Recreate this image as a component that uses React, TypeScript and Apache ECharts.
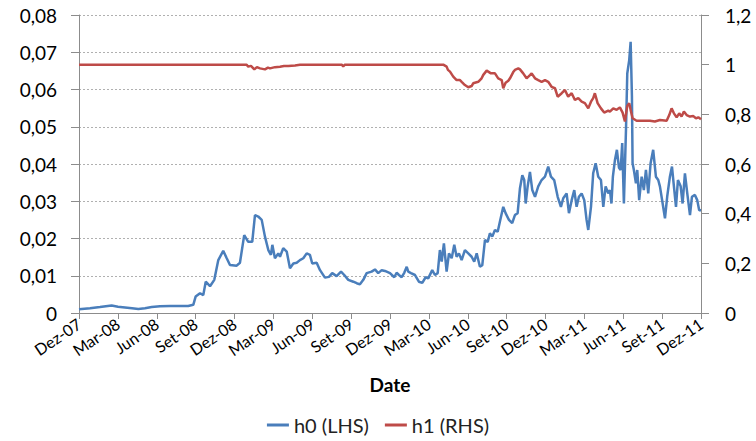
import React, { useEffect, useRef } from "react";
import * as echarts from "echarts";

// x positions are months since Dec 2007 (0 = Dez-07, 48 = Dez-11)
const tickLabels = [
  "Dez-07", "Mar-08", "Jun-08", "Set-08", "Dez-08", "Mar-09", "Jun-09", "Set-09", "Dez-09",
  "Mar-10", "Jun-10", "Set-10", "Dez-10", "Mar-11", "Jun-11", "Set-11", "Dez-11",
];

const h0Months = [
  0, 0.85, 1.62, 2.52, 3.01, 3.55, 4.09, 4.58, 5.09, 5.61, 6.25, 7.02, 7.79, 8.43, 8.82, 9.0, 9.34, 9.59, 9.78,
  10.11, 10.44, 10.75, 11.13, 11.4, 11.65, 12.17, 12.42, 12.75, 13.06, 13.37, 13.58, 13.83, 14.1, 14.35, 14.61,
  14.81, 14.92, 15.12, 15.38, 15.51, 15.76, 16.03, 16.28, 16.54, 16.8, 17.05, 17.31, 17.57, 17.82, 18.0, 18.34,
  18.6, 18.98, 19.29, 19.54, 19.88, 20.22, 20.47, 20.78, 21.17, 21.43, 21.68, 21.94, 22.2, 22.58, 22.84, 23.09,
  23.36, 23.61, 24.0, 24.33, 24.51, 24.69, 24.9, 25.1, 25.29, 25.41, 25.62, 25.93, 26.23, 26.49, 26.75, 26.95,
  27.26, 27.47, 27.68, 27.85, 27.99, 28.16, 28.37, 28.55, 28.76, 28.96, 29.14, 29.32, 29.53, 29.78, 30.04, 30.3,
  30.5, 30.69, 30.94, 31.12, 31.33, 31.54, 31.71, 31.89, 32.1, 32.31, 32.48, 32.74, 32.92, 33.18, 33.43, 33.64,
  33.85, 34.03, 34.21, 34.36, 34.47, 34.62, 34.8, 34.98, 35.19, 35.44, 35.7, 35.96, 36.21, 36.42, 36.67, 36.94,
  37.19, 37.37, 37.63, 37.81, 38.02, 38.22, 38.4, 38.58, 38.79, 38.99, 39.17, 39.3, 39.51, 39.68, 39.87, 40.07,
  40.28, 40.46, 40.64, 40.84, 40.97, 41.09, 41.2, 41.36, 41.51, 41.67, 41.8, 41.92, 42.05, 42.21, 42.31, 42.46,
  42.57, 42.67, 42.72, 42.82, 42.98, 43.08, 43.23, 43.42, 43.59, 43.75, 43.93, 44.11, 44.31, 44.52, 44.7, 44.83,
  45.04, 45.22, 45.39, 45.6, 45.76, 45.91, 46.07, 46.22, 46.43, 46.58, 46.76, 46.94, 47.15, 47.3, 47.53, 47.71,
  47.86, 48.0,
];

const h0Values = [
  0.001, 0.0013, 0.0016, 0.002, 0.0017, 0.0015, 0.0013, 0.0011, 0.0013, 0.0016, 0.0018, 0.0019, 0.0019, 0.0019,
  0.0022, 0.0044, 0.0053, 0.0048, 0.0084, 0.0072, 0.0089, 0.0142, 0.0167, 0.0147, 0.0129, 0.0127, 0.0135, 0.0209,
  0.0191, 0.0191, 0.0263, 0.0259, 0.025, 0.0205, 0.0169, 0.0156, 0.0183, 0.0147, 0.016, 0.0151, 0.0174, 0.0165,
  0.012, 0.0133, 0.0135, 0.0142, 0.0147, 0.016, 0.0156, 0.0133, 0.0135, 0.0115, 0.0095, 0.0097, 0.0107, 0.0099,
  0.0111, 0.0102, 0.0089, 0.0084, 0.008, 0.0077, 0.0089, 0.0107, 0.0111, 0.0117, 0.0107, 0.0115, 0.0113, 0.0107,
  0.0096, 0.0108, 0.0102, 0.0096, 0.0108, 0.0124, 0.0111, 0.0107, 0.0102, 0.0084, 0.0081, 0.0096, 0.0093, 0.0115,
  0.0102, 0.0107, 0.0169, 0.0138, 0.0187, 0.0111, 0.016, 0.0147, 0.0183, 0.0151, 0.016, 0.0142, 0.0169, 0.016,
  0.0151, 0.0138, 0.016, 0.0124, 0.0128, 0.0196, 0.0191, 0.0214, 0.0205, 0.0223, 0.0218, 0.0245, 0.0285, 0.0268,
  0.025, 0.0241, 0.0263, 0.0268, 0.0335, 0.037, 0.0357, 0.0294, 0.0339, 0.0379, 0.033, 0.0312, 0.034, 0.0357,
  0.0366, 0.0393, 0.0366, 0.0357, 0.0312, 0.0285, 0.0308, 0.0321, 0.0268, 0.0303, 0.033, 0.0285, 0.0312, 0.0321,
  0.0303, 0.025, 0.0223, 0.0285, 0.0375, 0.0402, 0.0366, 0.0357, 0.0285, 0.034, 0.0321, 0.033, 0.0294, 0.0366,
  0.0411, 0.0438, 0.039, 0.0384, 0.0456, 0.0294, 0.0491, 0.0643, 0.0679, 0.0728, 0.0581, 0.0402, 0.0384, 0.0348,
  0.0384, 0.0303, 0.0366, 0.033, 0.0384, 0.0321, 0.0402, 0.0438, 0.0366, 0.0357, 0.034, 0.0294, 0.0254, 0.0312,
  0.0366, 0.0393, 0.034, 0.0285, 0.0357, 0.034, 0.0294, 0.0375, 0.0321, 0.0263, 0.0312, 0.0317, 0.0303, 0.0276,
  0.0276,
];

const h1Months = [
  0, 12.94, 13.06, 13.27, 13.53, 13.73, 13.97, 14.35, 14.58, 14.74, 15.12, 15.51, 15.82, 16.15, 16.67, 17.05,
  20.29, 20.39, 20.52, 28.11, 28.37, 28.47, 28.63, 28.88, 29.14, 29.4, 29.53, 29.78, 30.04, 30.3, 30.42, 30.81,
  31.07, 31.2, 31.46, 31.79, 32.1, 32.35, 32.62, 32.74, 32.92, 33.13, 33.26, 33.51, 33.64, 33.9, 34.03, 34.28,
  34.54, 34.8, 34.93, 35.19, 35.44, 35.7, 35.96, 36.21, 36.47, 36.73, 36.94, 37.25, 37.5, 37.75, 38.02, 38.27,
  38.53, 38.79, 39.04, 39.3, 39.51, 39.68, 39.81, 40.02, 40.28, 40.53, 40.84, 40.97, 41.23, 41.49, 41.74, 41.95,
  42.13, 42.31, 42.46, 42.57, 42.72, 43.03, 43.54, 44.06, 44.44, 44.83, 45.35, 45.55, 45.73, 45.91, 46.12, 46.32,
  46.5, 46.68, 46.89, 47.15, 47.41, 47.61, 47.79, 48.0,
];

const h1Values = [
  1.0, 1.0, 0.992, 0.995, 0.981, 0.99, 0.985, 0.981, 0.988, 0.985, 0.99, 0.992, 0.995, 0.995, 0.997, 1.0,
  1.0, 0.993, 1.0, 1.0, 0.992, 0.979, 0.972, 0.952, 0.938, 0.938, 0.931, 0.918, 0.909, 0.914, 0.925, 0.931,
  0.945, 0.959, 0.976, 0.965, 0.965, 0.945, 0.938, 0.905, 0.927, 0.935, 0.945, 0.97, 0.979, 0.985, 0.981, 0.965,
  0.945, 0.958, 0.965, 0.945, 0.938, 0.931, 0.938, 0.931, 0.911, 0.905, 0.871, 0.885, 0.898, 0.871, 0.885, 0.858,
  0.865, 0.851, 0.845, 0.824, 0.851, 0.865, 0.885, 0.845, 0.824, 0.807, 0.815, 0.811, 0.824, 0.818, 0.828, 0.807,
  0.771, 0.834, 0.845, 0.818, 0.784, 0.774, 0.774, 0.774, 0.771, 0.777, 0.774, 0.797, 0.824, 0.804, 0.788, 0.804,
  0.791, 0.811, 0.797, 0.791, 0.793, 0.784, 0.788, 0.78,
];

const FONT = "Lato, 'Liberation Sans', sans-serif";

export default function App() {
  const ref = useRef<HTMLDivElement>(null);
  useEffect(() => {
    if (!ref.current) return;
    const chart = echarts.init(ref.current, undefined, { renderer: "svg" });
    const fmt = (v: number, d: number) => {
      if (v === 0) return "0";
      return String(Number(v.toFixed(d))).replace(".", ",");
    };
    chart.setOption({
      animation: false,
      textStyle: { fontFamily: FONT },
      grid: { left: 79, right: 55, top: 15, bottom: 128, containLabel: false },
      legend: {
        bottom: 1,
        left: "center",
        itemWidth: 22,
        itemHeight: 3,
        itemGap: 16,
        icon: "rect",
        textStyle: { fontSize: 20, color: "#222", fontFamily: FONT },
        data: ["h0 (LHS)", "h1 (RHS)"],
      },
      xAxis: {
        type: "value",
        min: 0,
        max: 48,
        interval: 3,
        name: "Date",
        nameLocation: "middle",
        nameGap: 62,
        nameTextStyle: { fontSize: 19, fontWeight: "bold", color: "#000", fontFamily: FONT },
        axisLine: { show: true, onZero: false, lineStyle: { color: "#8c8c8c", width: 1 } },
        axisTick: { show: true, length: 6, lineStyle: { color: "#8c8c8c" } },
        splitLine: { show: false },
        axisLabel: {
          rotate: 34,
          fontSize: 16,
          color: "#000",
          margin: 9,
          formatter: (v: number) => tickLabels[Math.round(v / 3)] ?? "",
        },
      },
      yAxis: [
        {
          type: "value",
          min: 0,
          max: 0.08,
          interval: 0.01,
          position: "left",
          axisLine: { show: true, lineStyle: { color: "#8c8c8c" } },
          axisTick: { show: true, length: 8, lineStyle: { color: "#8c8c8c" } },
          splitLine: { show: true, lineStyle: { color: "#b0b0b0", type: [2, 2], width: 1 } },
          axisLabel: { fontSize: 19, color: "#000", margin: 22, formatter: (v: number) => fmt(v, 2) },
        },
        {
          type: "value",
          min: 0,
          max: 1.2,
          interval: 0.2,
          position: "right",
          axisLine: { show: true, lineStyle: { color: "#8c8c8c" } },
          axisTick: { show: true, length: 8, lineStyle: { color: "#8c8c8c" } },
          splitLine: { show: false },
          axisLabel: { fontSize: 19, color: "#000", margin: 24, formatter: (v: number) => fmt(v, 1) },
        },
      ],
      series: [
        {
          name: "h0 (LHS)",
          type: "line",
          yAxisIndex: 0,
          showSymbol: false,
          symbol: "none",
          color: "#4A7EBB",
          lineStyle: { width: 2.5, color: "#4A7EBB" },
          data: h0Months.map((m, i) => [m, h0Values[i]]),
        },
        {
          name: "h1 (RHS)",
          type: "line",
          yAxisIndex: 1,
          showSymbol: false,
          symbol: "none",
          color: "#BE4B48",
          lineStyle: { width: 2.5, color: "#BE4B48" },
          data: h1Months.map((m, i) => [m, h1Values[i]]),
        },
      ],
    });
    return () => chart.dispose();
  }, []);
  return <div ref={ref} style={{ width: 756, height: 441, position: "absolute", left: 0, top: 0 }} />;
}
